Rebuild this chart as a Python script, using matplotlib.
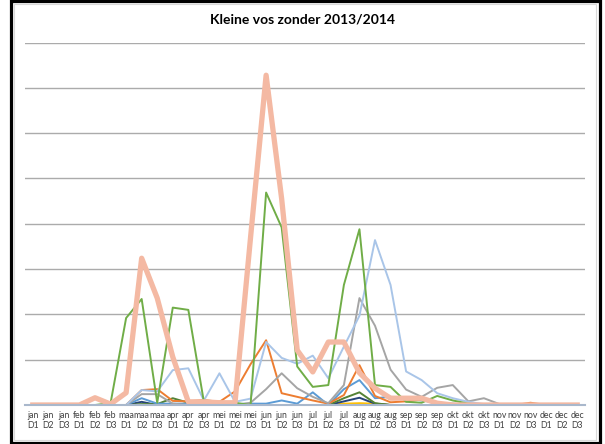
import matplotlib
matplotlib.use("Agg")
import matplotlib.pyplot as plt
from matplotlib.patches import Rectangle

plt.rcParams['font.family'] = ['Lato', 'DejaVu Sans']

months = ['jan', 'feb', 'maa', 'apr', 'mei', 'jun', 'jul', 'aug', 'sep', 'okt', 'nov', 'dec']
decades = ['D1', 'D2', 'D3']
labels = [m + '\n' + d for m in months for d in decades]

# values (one gridline = 1 unit)
blue = [0, 0, 0, 0, 0, 0, 0, 0.15, 0.03, 0.03, 0.03, 0.03, 0.02, 0.02, 0.03, 0.03, 0.1, 0.03,
        0.28, 0.0, 0.35, 0.55, 0.15, 0.18, 0.16, 0.1, 0.05, 0.03, 0, 0, 0, 0, 0, 0, 0, 0]
orange = [0, 0, 0, 0, 0, 0, 0, 0.33, 0.35, 0.09, 0.08, 0.11, 0.07, 0.3, 0.9, 1.43, 0.26, 0.18,
          0.1, 0.03, 0.22, 0.88, 0.2, 0.06, 0.08, 0.12, 0.03, 0, 0, 0, 0, 0, 0.05, 0, 0, 0]
gray = [0, 0, 0, 0, 0, 0, 0, 0.24, 0.24, 0.03, 0, 0, 0, 0, 0.05, 0.35, 0.7, 0.37,
        0.18, 0.04, 0.44, 2.36, 1.75, 0.78, 0.34, 0.18, 0.38, 0.44, 0.08, 0.15, 0.02, 0, 0, 0, 0, 0]
yellow = [0, 0, 0, 0, 0, 0, 0, 0, 0, 0, 0, 0, 0, 0, 0, 0, 0, 0,
          0, 0, 0.03, 0.04, 0.03, 0, 0, 0, 0, 0, 0, 0, 0, 0, 0, 0, 0, 0]
navy = [0, 0, 0, 0, 0, 0, 0, 0.07, 0, 0, 0, 0, 0, 0, 0, 0, 0, 0,
        0, 0, 0.08, 0.16, 0.03, 0, 0, 0, 0, 0, 0, 0, 0, 0, 0, 0, 0, 0]
dark_green = [0, 0, 0, 0, 0, 0, 0, 0.02, 0.02, 0.15, 0.05, 0, 0, 0, 0, 0, 0, 0,
              0, 0, 0.15, 0.28, 0.04, 0, 0, 0, 0, 0, 0, 0, 0, 0, 0, 0, 0, 0]
green = [0, 0, 0, 0, 0, 0.04, 1.92, 2.34, 0.05, 2.15, 2.1, 0.07, 0.05, 0.05, 0.0, 4.69, 3.92, 0.85,
         0.4, 0.44, 2.65, 3.88, 0.44, 0.4, 0.07, 0.05, 0.2, 0.1, 0.03, 0, 0, 0, 0, 0, 0, 0]
light_blue = [0, 0, 0, 0, 0, 0, 0, 0.33, 0.3, 0.77, 0.81, 0.1, 0.7, 0.07, 0.14, 1.39, 1.04, 0.91,
              1.09, 0.59, 1.29, 1.97, 3.64, 2.65, 0.74, 0.55, 0.26, 0.15, 0.07, 0.02, 0, 0, 0, 0, 0, 0]
salmon = [0, 0, 0, 0, 0.16, 0.02, 0.27, 3.24, 2.36, 1.06, 0.07, 0.07, 0.05, 0.05, 3.7, 7.28, 4.55, 1.21,
          0.73, 1.39, 1.39, 0.71, 0.37, 0.15, 0.15, 0.15, 0.04, 0, 0, 0, 0, 0, 0, 0, 0, 0]

fig = plt.figure(figsize=(6.05, 4.44), dpi=100)
ax = fig.add_axes([25 / 605, 1 - 405 / 444, 560 / 605, (405 - 42.6) / 444])

x = range(len(labels))
ax.plot(x, yellow, color='#FFC000', lw=1.4)
ax.plot(x, navy, color='#264478', lw=1.4)
ax.plot(x, dark_green, color='#548235', lw=1.4)
ax.plot(x, blue, color='#5B9BD5', lw=1.4)
ax.plot(x, orange, color='#ED7D31', lw=1.4)
ax.plot(x, gray, color='#A5A5A5', lw=1.4)
ax.plot(x, light_blue, color='#A9C5E8', lw=1.4)
ax.plot(x, green, color='#70AD47', lw=1.4)
ax.plot(x, salmon, color='#F4B9A3', lw=3.8, solid_joinstyle='round')

ax.set_xlim(-0.5, len(labels) - 0.5)
ax.set_ylim(0, 8)
ax.set_yticks(range(9))
ax.set_yticklabels([])
ax.tick_params(axis='y', length=0)
ax.grid(axis='y', color='#ABABAB', lw=1.0)
ax.set_axisbelow(True)

ax.set_xticks(list(x))
ax.set_xticklabels(labels, fontsize=6.3, color='#404040', linespacing=1.25)
ax.tick_params(axis='x', length=0, pad=4)

for s in ['top', 'right', 'left']:
    ax.spines[s].set_visible(False)
ax.spines['bottom'].set_color('#A9B8CC')
ax.spines['bottom'].set_linewidth(1.5)

fig.text(0.5, 1 - 20 / 444, 'Kleine vos zonder 2013/2014', ha='center', va='center',
         fontsize=10, fontweight='bold', color='black')

# chart border and black frame
fig.add_artist(Rectangle((13.5 / 605, 4.5 / 444), 582 / 605, 435 / 444, transform=fig.transFigure,
                         fill=False, ec='#D9D9D9', lw=0.8))
fig.add_artist(Rectangle((11 / 605, 1.5 / 444), 589 / 605, 441 / 444, transform=fig.transFigure,
                         fill=False, ec='black', lw=2.3))

fig.savefig('out.png', dpi=100)
